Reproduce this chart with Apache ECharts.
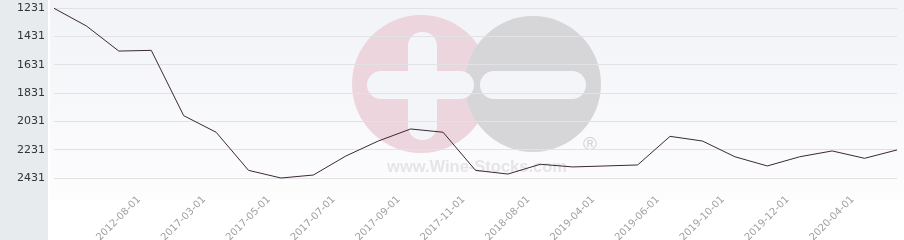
<!DOCTYPE html>
<html>
<head>
<meta charset="utf-8">
<style>
  html, body { margin: 0; padding: 0; background: #ffffff; }
  #chart { width: 904px; height: 240px; }
</style>
<script src="https://cdn.jsdelivr.net/npm/echarts@6/dist/echarts.min.js"></script>
</head>
<body>
<div id="chart"></div>
<script>
const categories = [
  "2011-12-01", "2012-04-01", "2012-06-01", "2012-08-01", "2016-12-01",
  "2017-03-01", "2017-04-01", "2017-05-01", "2017-06-01", "2017-07-01",
  "2017-08-01", "2017-09-01", "2017-10-01", "2017-11-01", "2018-03-01",
  "2018-08-01", "2019-01-01", "2019-04-01", "2019-05-01", "2019-06-01",
  "2019-08-01", "2019-10-01", "2019-11-01", "2019-12-01", "2020-02-01",
  "2020-04-01", "2020-06-01"
];
const values = [
  1233, 1358, 1535, 1530, 1991,
  2108, 2377, 2431, 2410, 2276,
  2170, 2085, 2108, 2377, 2403,
  2334, 2353, 2346, 2339, 2137,
  2170, 2281, 2346, 2281, 2240,
  2292, 2233
];
const yTicks = [1231, 1431, 1631, 1831, 2031, 2231, 2431];

const chart = echarts.init(document.getElementById('chart'), null, { renderer: 'canvas' });

const bgColor = '#f4f5f8';
chart.setOption({
  animation: false,
  backgroundColor: '#ffffff',
  graphic: [
    { type: 'rect', z: -20, silent: true, shape: { x: 0, y: 0, width: 48, height: 240 }, style: { fill: '#e7ebee' } },
    { type: 'rect', z: -20, silent: true, shape: { x: 50, y: 0, width: 854, height: 200 },
      style: { fill: new echarts.graphic.LinearGradient(0, 0, 0, 1, [
        { offset: 0, color: '#f2f3f7' }, { offset: 1, color: '#fdfdfe' }]) } },
    { type: 'circle', z: -15, silent: true, shape: { cx: 421, cy: 84, r: 69 }, style: { fill: '#ecd5dc' } },
    { type: 'circle', z: -14, silent: true, shape: { cx: 533, cy: 84, r: 68 }, style: { fill: '#d6d6d8' } },
    { type: 'rect', z: -13, silent: true, shape: { x: 408, y: 32, width: 29, height: 108, r: 14 }, style: { fill: bgColor } },
    { type: 'rect', z: -13, silent: true, shape: { x: 367, y: 71, width: 107, height: 28, r: 14 }, style: { fill: bgColor } },
    { type: 'rect', z: -13, silent: true, shape: { x: 480, y: 71, width: 106, height: 28, r: 14 }, style: { fill: bgColor } },
    { type: 'text', z: -12, silent: true, style: { x: 590, y: 145, text: '®', fill: '#d2d2d4',
      font: '19px "Liberation Sans"', align: 'center', verticalAlign: 'middle' } },
    { type: 'text', z: -12, silent: true, style: { x: 477, y: 167, text: 'www.Wine-Stocks.com', fill: '#e5e5e7',
      font: 'bold 16.5px "Liberation Sans"', align: 'center', verticalAlign: 'middle' } }
  ],
  grid: { left: 54, right: 7, top: 8, height: 170, containLabel: false, outerBoundsMode: 'none' },
  xAxis: {
    type: 'category',
    data: categories,
    boundaryGap: false,
    axisLine: { show: false },
    axisTick: { show: false },
    splitLine: { show: false },
    axisLabel: {
      rotate: 45,
      margin: 8,
      padding: [0, 17, 0, 0],
      color: '#a0a0a0',
      fontFamily: 'DejaVu Sans',
      fontSize: 10,
      interval: function (i) { return i % 2 === 1 && i >= 3; }
    }
  },
  yAxis: {
    type: 'value',
    inverse: true,
    min: yTicks[0],
    max: yTicks[yTicks.length - 1],
    interval: 200,
    axisLine: { show: false },
    axisTick: { show: false },
    splitLine: { show: true, lineStyle: { color: '#e2e2e4', width: 1 } },
    axisLabel: {
      margin: 9,
      color: '#333333',
      fontFamily: 'DejaVu Sans',
      fontSize: 11,
      formatter: function (v) { return String(v); }
    }
  },
  series: [{
    type: 'line',
    data: values,
    symbol: 'none',
    clip: false,
    lineStyle: { color: '#3c2834', width: 1 }
  }]
});
</script>
</body>
</html>
